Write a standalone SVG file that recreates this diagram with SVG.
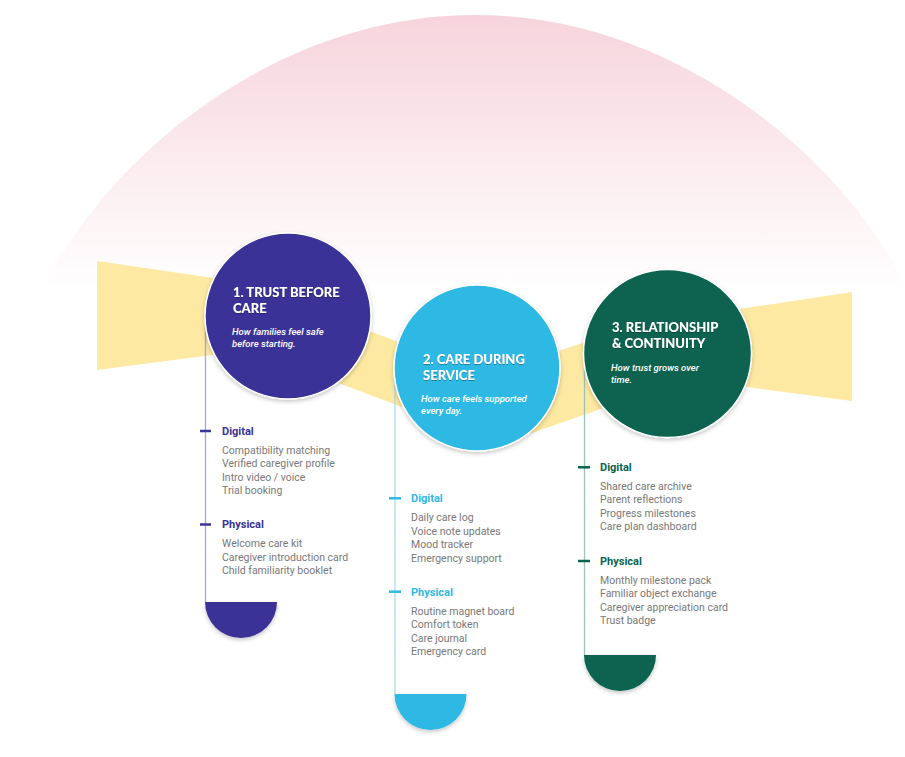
<svg xmlns="http://www.w3.org/2000/svg" width="905" height="757" viewBox="0 0 905 757">
<defs>
<linearGradient id="pink" x1="0" y1="15" x2="0" y2="290" gradientUnits="userSpaceOnUse">
<stop offset="0" stop-color="#f7d4dd"/>
<stop offset="0.55" stop-color="#fbecef"/>
<stop offset="1" stop-color="#ffffff"/>
</linearGradient>
<filter id="sh" x="-30%" y="-30%" width="160%" height="160%">
<feDropShadow dx="0" dy="2" stdDeviation="2" flood-color="#000" flood-opacity="0.22"/>
</filter>
<filter id="tsh" x="-10%" y="-30%" width="120%" height="160%">
<feDropShadow dx="0" dy="0.6" stdDeviation="0.5" flood-color="#000" flood-opacity="0.5"/>
</filter>
</defs>
<style>
.title{font-family:Lato,"Liberation Sans",sans-serif;font-weight:900;font-size:13px;fill:#fff}
.sub{font-family:Roboto,"Liberation Sans",sans-serif;font-style:italic;font-weight:500;font-size:9.5px;fill:#fff}
.head{font-family:Roboto,"Liberation Sans",sans-serif;font-weight:700;font-size:11px}
.item{font-family:Roboto,"Liberation Sans",sans-serif;font-size:10.5px;fill:#787878}
.circ{stroke:#fff;stroke-width:1.5}
</style>
<rect width="905" height="757" fill="#fff"/>
<path d="M 30 320 C 80 180 260 15 475 15 C 690 15 870 180 920 320 Z" fill="url(#pink)"/>
<polygon fill="#fde9a1" points="97,261 288,289 288,300 477,372 477,378 667,315 667,320 740,309 852,292 852,401 740,386 667,376 667,386 500,444 288,364 288,345 97,370"/>

<g id="connectors">
<line x1="205.5" y1="316" x2="205.5" y2="602" stroke="#a9a4dd" stroke-width="1.3"/>
<line x1="395" y1="368" x2="395" y2="694" stroke="#a6dcf1" stroke-width="1.3"/>
<line x1="584.5" y1="353" x2="584.5" y2="655" stroke="#9dc3b8" stroke-width="1.3"/>
</g>

<g id="stage1">
<circle class="circ" cx="288" cy="316" r="83" fill="#3b3397" filter="url(#sh)"/>
<text class="title" x="233" y="297" filter="url(#tsh)">1. TRUST BEFORE</text>
<text class="title" x="233" y="313" filter="url(#tsh)">CARE</text>
<text class="sub" x="232" y="335">How families feel safe</text>
<text class="sub" x="232" y="346.5">before starting.</text>
<line x1="200" y1="431" x2="211" y2="431" stroke="#3b3397" stroke-width="2.5"/>
<text class="head" x="222" y="434.5" fill="#3b3397">Digital</text>
<text class="item" x="222" y="453.5">Compatibility matching</text>
<text class="item" x="222" y="467">Verified caregiver profile</text>
<text class="item" x="222" y="480.5">Intro video / voice</text>
<text class="item" x="222" y="494">Trial booking</text>
<line x1="200" y1="524.5" x2="211" y2="524.5" stroke="#3b3397" stroke-width="2.5"/>
<text class="head" x="222" y="528" fill="#3b3397">Physical</text>
<text class="item" x="222" y="547">Welcome care kit</text>
<text class="item" x="222" y="560.5">Caregiver introduction card</text>
<text class="item" x="222" y="574">Child familiarity booklet</text>
<path d="M 205 602 L 277 602 A 36 36 0 0 1 205 602 Z" fill="#3b3397" filter="url(#sh)"/>
</g>

<g id="stage2">
<circle class="circ" cx="477" cy="368" r="83" fill="#2fb9e4" filter="url(#sh)"/>
<text class="title" x="423" y="364" filter="url(#tsh)">2. CARE DURING</text>
<text class="title" x="423" y="380" filter="url(#tsh)">SERVICE</text>
<text class="sub" x="421" y="402">How care feels supported</text>
<text class="sub" x="421" y="413.5">every day.</text>
<line x1="389" y1="498.3" x2="401" y2="498.3" stroke="#2fb9e4" stroke-width="2.5"/>
<text class="head" x="411" y="502" fill="#2fb9e4">Digital</text>
<text class="item" x="411" y="521">Daily care log</text>
<text class="item" x="411" y="534.5">Voice note updates</text>
<text class="item" x="411" y="548">Mood tracker</text>
<text class="item" x="411" y="561.5">Emergency support</text>
<line x1="389" y1="591.7" x2="401" y2="591.7" stroke="#2fb9e4" stroke-width="2.5"/>
<text class="head" x="411" y="595.5" fill="#2fb9e4">Physical</text>
<text class="item" x="411" y="614.5">Routine magnet board</text>
<text class="item" x="411" y="628">Comfort token</text>
<text class="item" x="411" y="641.5">Care journal</text>
<text class="item" x="411" y="655">Emergency card</text>
<path d="M 394.5 694 L 466.5 694 A 36 36 0 0 1 394.5 694 Z" fill="#2fb9e4" filter="url(#sh)"/>
</g>

<g id="stage3">
<circle class="circ" cx="667.5" cy="353.5" r="84" fill="#07644f" filter="url(#sh)"/>
<text class="title" x="612" y="332" filter="url(#tsh)">3. RELATIONSHIP</text>
<text class="title" x="612" y="348" filter="url(#tsh)">&amp; CONTINUITY</text>
<text class="sub" x="611" y="371">How trust grows over</text>
<text class="sub" x="611" y="382.5">time.</text>
<line x1="578" y1="467.3" x2="590" y2="467.3" stroke="#07644f" stroke-width="2.5"/>
<text class="head" x="600" y="471" fill="#07644f">Digital</text>
<text class="item" x="600" y="489.5">Shared care archive</text>
<text class="item" x="600" y="503">Parent reflections</text>
<text class="item" x="600" y="516.5">Progress milestones</text>
<text class="item" x="600" y="530">Care plan dashboard</text>
<line x1="578" y1="561" x2="590" y2="561" stroke="#07644f" stroke-width="2.5"/>
<text class="head" x="600" y="565" fill="#07644f">Physical</text>
<text class="item" x="600" y="583.5">Monthly milestone pack</text>
<text class="item" x="600" y="597">Familiar object exchange</text>
<text class="item" x="600" y="610.5">Caregiver appreciation card</text>
<text class="item" x="600" y="624">Trust badge</text>
<path d="M 584 655 L 656 655 A 36 36 0 0 1 584 655 Z" fill="#07644f" filter="url(#sh)"/>
</g>
</svg>
